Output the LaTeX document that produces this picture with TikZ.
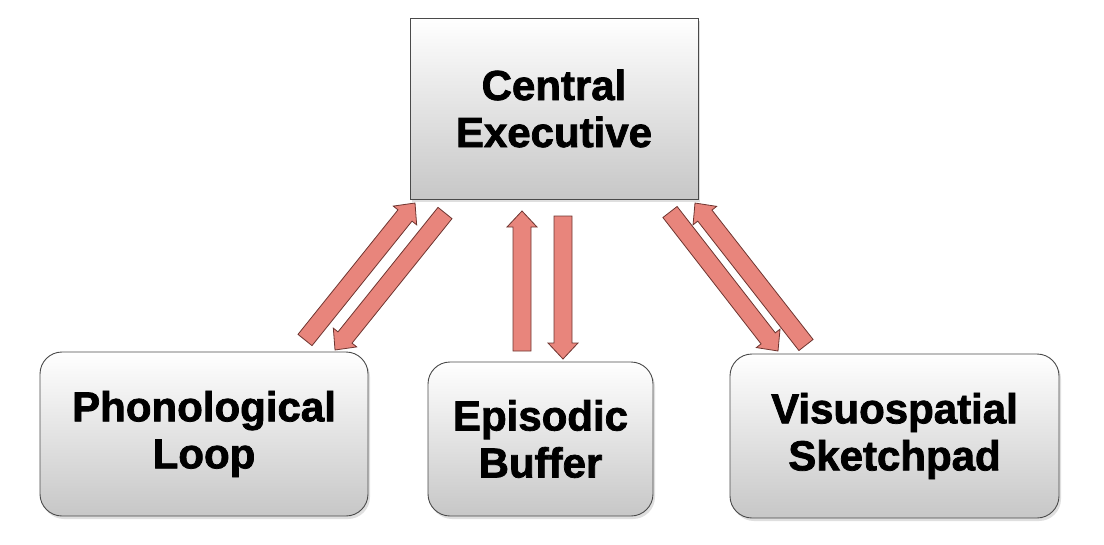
\documentclass[tikz,border=0pt]{standalone}
\usepackage{fontspec}
\setmainfont{Liberation Sans}[BoldFeatures={FakeBold=1.8}]
\usetikzlibrary{calc,shadows}
\definecolor{arrowfill}{HTML}{E8857C}
\definecolor{arrowline}{HTML}{6E3530}
\definecolor{boxline}{HTML}{4A4A4A}
\tikzset{
  box/.style={draw=boxline, line width=0.9pt, top color=white, bottom color=black!22,
    drop shadow={shadow xshift=2pt, shadow yshift=-3pt, opacity=0.25},
    font=\fontsize{42}{47}\selectfont\bfseries, align=center, inner sep=0pt},
  rbox/.style={box, rounded corners=22pt},
  barrow/.style={fill=arrowfill, draw=arrowline, line width=0.8pt, line join=miter}
}
\newcommand\blockarrow[2]{%
  \coordinate (h) at ($(#2)!16pt!(#1)$);
  \draw[barrow] ($(#1)!9pt!90:(#2)$) -- ($(h)!9pt!-90:(#1)$) -- ($(h)!15pt!-90:(#1)$) -- (#2)
    -- ($(h)!15pt!90:(#1)$) -- ($(h)!9pt!90:(#1)$) -- ($(#1)!9pt!-90:(#2)$) -- cycle;}
\begin{document}
\begin{tikzpicture}[x=1pt,y=-1pt]
\useasboundingbox (0,0) rectangle (1104,544);
\node[box, minimum width=288pt, minimum height=181pt] (ce) at (554,108.5) {Central\\Executive};
\node[rbox, minimum width=328pt, minimum height=164pt] (pl) at (204,434) {Phonological\\Loop};
\node[rbox, minimum width=225pt, minimum height=154pt] (eb) at (540.5,439) {Episodic\\Buffer};
\node[rbox, minimum width=329pt, minimum height=164pt] (vs) at (894.5,436) {Visuospatial\\Sketchpad};
\coordinate (a1) at (305,340); \coordinate (b1) at (415,203);
\coordinate (a2) at (445,213); \coordinate (b2) at (335,350);
\coordinate (a3) at (522,351); \coordinate (b3) at (522,211);
\coordinate (a4) at (563,216); \coordinate (b4) at (563,359);
\coordinate (a5) at (670,212); \coordinate (b5) at (778,351);
\coordinate (a6) at (806,345); \coordinate (b6) at (695,203);
\blockarrow{a1}{b1}
\blockarrow{a2}{b2}
\blockarrow{a3}{b3}
\blockarrow{a4}{b4}
\blockarrow{a5}{b5}
\blockarrow{a6}{b6}
\end{tikzpicture}
\end{document}
